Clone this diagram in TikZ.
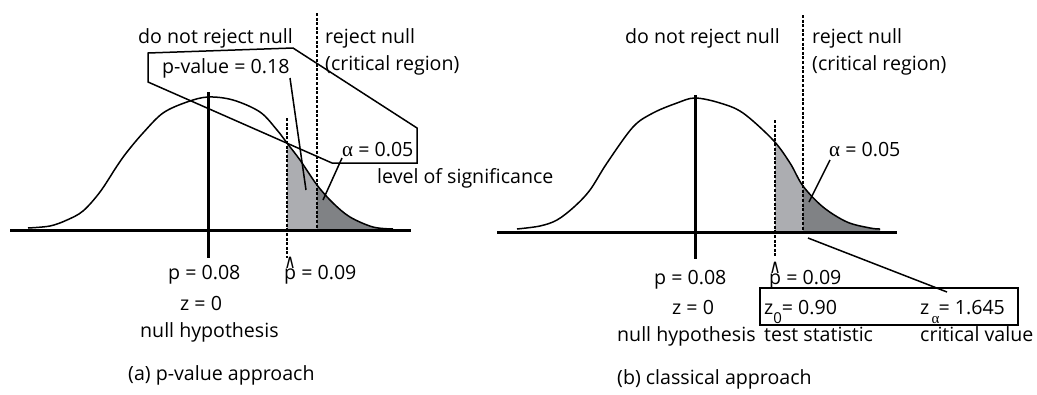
\documentclass[tikz,border=0pt]{standalone}
\usepackage{fontspec}
\setmainfont{Open Sans}
\newfontfamily\alphafont{Liberation Serif}
\newfontfamily\hatfont{DejaVu Sans}
\usepackage{graphicx}
\definecolor{lightsh}{RGB}{172,173,177}
\definecolor{darksh}{RGB}{128,130,133}
\newcommand\leftcurve{plot[smooth,tension=0.55] coordinates {(28,228) (50,226) (67,220) (83,211) (100,192) (117,166) (127,152) (143,133) (163,113) (187,102) (208,97) (233,100) (260,112) (277,130) (287,143) (300,160) (317,185) (333,203) (350,217) (373,227) (393,229)}}
\newcommand\rightcurve{plot[smooth,tension=0.55] coordinates {(517,229) (540,226) (557,220) (574,207) (590,190) (607,163) (633,127) (653,113) (677,103) (695,98) (720,103) (743,113) (773,140) (790,163) (803,186) (823,207) (847,222) (870,228) (880,229)}}
\newcommand\phat{\makebox[0pt][l]{\hspace{0.01em}\raisebox{0.56em}{\scalebox{0.8}[1.0]{\hatfont ∧}}}p}
\newcommand\alp{{\alphafont\fontsize{21}{21}\selectfont α}}
\tikzset{
  lbl/.style={anchor=base west, inner sep=0pt, font=\fontsize{19.6}{23}\selectfont},
  curveline/.style={line width=1.5pt, line join=round},
  axisline/.style={line width=3pt},
  dashline/.style={line width=1.6pt, dash pattern=on 3pt off 1.6pt},
  leader/.style={line width=1.5pt},
}
\begin{document}
\begin{tikzpicture}[x=1pt,y=-1pt]
\useasboundingbox (0,0) rectangle (1037,394);
% ---------- left panel ----------
\begin{scope}
  \clip (287,0) rectangle (317,230);
  \fill[lightsh] \leftcurve -- (393,230) -- (28,230) -- cycle;
\end{scope}
\begin{scope}
  \clip (317,0) rectangle (400,230);
  \fill[darksh] \leftcurve -- (393,230) -- (28,230) -- cycle;
\end{scope}
\draw[curveline] \leftcurve;
\draw[axisline] (10,230) -- (411,230);
\draw[axisline] (208,92) -- (208,258);
\draw[dashline] (287,118) -- (287,258);
\draw[dashline] (317,13) -- (317,230);

\node[lbl] (dnrA) at (138,43) {do not reject null};
\node[lbl] (rnA) at (325,43) {reject null};
\node[lbl] (crA) at (325,70) {(critical region)};
\draw[leader, line join=miter] (148,53) -- (293,48) -- (417,128) -- (417,163) -- (332,163) -- (148,82) -- cycle;
\node[lbl] (pv) at (162,73) {p-value = 0.18};
\node[lbl] (alA) at (342,156) {\alp{} = 0.05};
\node[lbl] (los) at (377,183) {level of significance};
\coordinate (pvA) at (290,78);
\coordinate (pvB) at (306,190);
\draw[leader] (pvA) -- (pvB);
\coordinate (alA1) at (342,158);
\coordinate (alA2) at (323,200);
\draw[leader] (alA1) -- (alA2);

\node[lbl] (pA) at (168,279) {p = 0.08};
\node[lbl] (phA) at (284,279) {\phat{} = 0.09};
\node[lbl] (zA) at (180,310) {z = 0};
\node[lbl] (nhA) at (140,337) {null hypothesis};
\node[lbl] (capA) at (128,380) {(a) p-value approach};

% ---------- right panel ----------
\begin{scope}
  \clip (775,0) rectangle (803,232);
  \fill[lightsh] \rightcurve -- (880,232) -- (517,232) -- cycle;
\end{scope}
\begin{scope}
  \clip (803,0) rectangle (890,232);
  \fill[darksh] \rightcurve -- (880,232) -- (517,232) -- cycle;
\end{scope}
\draw[curveline] \rightcurve;
\draw[axisline] (497,232) -- (897,232);
\draw[axisline] (695,95) -- (695,259);
\draw[dashline] (775,120) -- (775,257);
\draw[dashline] (803,15) -- (803,232);

\node[lbl] (dnrB) at (625,43) {do not reject null};
\node[lbl] (rnB) at (812,43) {reject null};
\node[lbl] (crB) at (812,70) {(critical region)};
\node[lbl] (alB) at (829,156) {\alp{} = 0.05};
\coordinate (alB1) at (830,160);
\coordinate (alB2) at (809,202);
\draw[leader] (alB1) -- (alB2);

\node[draw, line width=1.5pt, minimum width=258pt, minimum height=37pt, inner sep=0pt] (zbox) at (889,306.5) {};
\coordinate (cvA) at (808,238);
\coordinate (cvB) at (947,292);
\draw[leader] (cvA) -- (cvB);

\node[lbl] (pB) at (654,284) {p = 0.08};
\node[lbl] (phB) at (769,284) {\phat{} = 0.09};
\node[lbl] (zB) at (672,314) {z = 0};
\node[lbl] (z0) at (764,314) {z\raisebox{-0.5em}{\fontsize{15}{15}\selectfont 0}= 0.90};
\node[lbl] (za) at (920,314) {z\hspace{0.12em}\raisebox{-0.5em}{\alphafont\fontsize{15}{15}\selectfont α}\hspace{-0.05em}= 1.645};
\node[lbl] (nhB) at (617,341) {null hypothesis};
\node[lbl] (ts) at (764,341) {test statistic};
\node[lbl] (cv) at (920,341) {critical value};
\node[lbl] (capB) at (617,384) {(b) classical approach};
\end{tikzpicture}
\end{document}
